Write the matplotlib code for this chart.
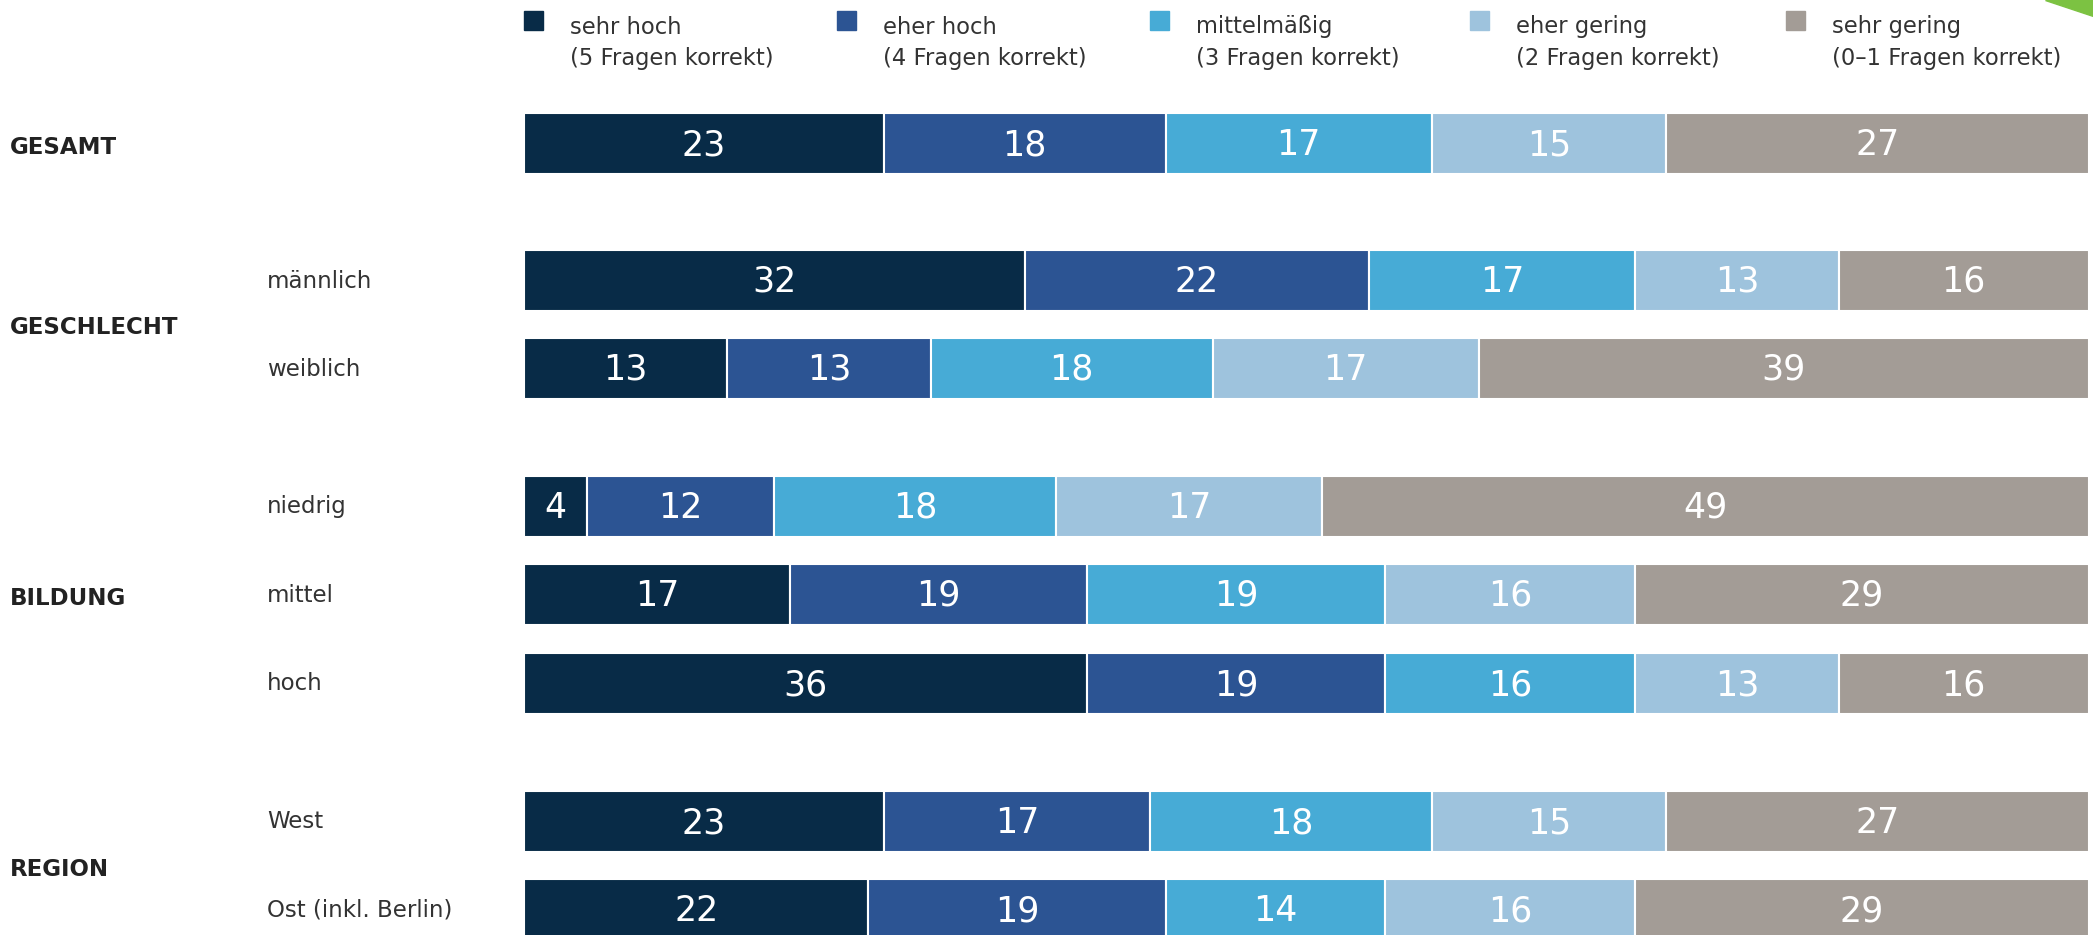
import matplotlib
matplotlib.use("Agg")
import matplotlib.pyplot as plt
from matplotlib.patches import Rectangle, Polygon
from matplotlib.transforms import blended_transform_factory

# Kategorien (Legende)
kategorien = ["sehr hoch", "eher hoch", "mittelmäßig", "eher gering", "sehr gering"]
kategorien_sub = ["(5 Fragen korrekt)", "(4 Fragen korrekt)", "(3 Fragen korrekt)",
                  "(2 Fragen korrekt)", "(0–1 Fragen korrekt)"]
farben = ["#082b47", "#2c5493", "#47abd6", "#9ec3dd", "#a39c96"]

# Zeilen
gruppen = ["GESAMT", "GESCHLECHT", "BILDUNG", "REGION"]
zeilen = ["", "männlich", "weiblich", "niedrig", "mittel", "hoch", "West", "Ost (inkl. Berlin)"]
zeilen_gruppe = [0, 1, 1, 2, 2, 2, 3, 3]

# Werte in Prozent (sehr hoch, eher hoch, mittelmäßig, eher gering, sehr gering)
werte_sehr_hoch = [23, 32, 13, 4, 17, 36, 23, 22]
werte_eher_hoch = [18, 22, 13, 12, 19, 19, 17, 19]
werte_mittel = [17, 17, 18, 18, 19, 16, 18, 14]
werte_eher_gering = [15, 13, 17, 17, 16, 13, 15, 16]
werte_sehr_gering = [27, 16, 39, 49, 29, 16, 27, 29]

W, H = 2093, 935
plt.rcParams['font.family'] = ['DejaVu Sans']

fig = plt.figure(figsize=(W / 100, H / 100), dpi=100)
fig.patch.set_facecolor("white")

x0, x1 = 524, 2089
ax = fig.add_axes([x0 / W, 0, (x1 - x0) / W, 1])
ax.set_xlim(0, 100)
ax.set_ylim(H, 0)
ax.axis("off")

# Zeilenpositionen (Pixel von oben)
y_pos = [143, 280, 368, 506, 594, 683, 821, 909]
bar_h = 61

serien = [werte_sehr_hoch, werte_eher_hoch, werte_mittel, werte_eher_gering, werte_sehr_gering]
links = [0.0] * len(zeilen)
for k, serie in enumerate(serien):
    ax.barh(y_pos, serie, left=links, height=bar_h, color=farben[k],
            edgecolor="white", linewidth=1.5)
    for i, v in enumerate(serie):
        ax.text(links[i] + v / 2, y_pos[i] + 2, str(v), color="white",
                fontsize=25, ha="center", va="center")
    links = [l + v for l, v in zip(links, serie)]

trans = blended_transform_factory(fig.transFigure, ax.transData)

# Zeilen-Beschriftungen
for i, lab in enumerate(zeilen):
    if lab:
        ax.text(267 / W, y_pos[i] + 1, lab, transform=trans, fontsize=16.5,
                color="#333333", ha="left", va="center")

# Gruppen-Beschriftungen
for g, name in enumerate(gruppen):
    ys = [y_pos[i] for i in range(len(zeilen)) if zeilen_gruppe[i] == g]
    yc = (min(ys) + max(ys)) / 2 + 4
    ax.text(10 / W, yc, name, transform=trans, fontsize=16.5, fontweight="bold",
            color="#222222", ha="left", va="center")

# Legende
leg_x = [524, 837, 1150, 1470, 1786]
for k in range(len(kategorien)):
    fig.patches.append(Rectangle((leg_x[k] / W, 1 - 30 / H), 19 / W, 19 / H,
                                 transform=fig.transFigure, color=farben[k]))
    fig.text((leg_x[k] + 46) / W, 1 - 27 / H, kategorien[k], fontsize=16.3,
             color="#333333", ha="left", va="center")
    fig.text((leg_x[k] + 46) / W, 1 - 58 / H, kategorien_sub[k], fontsize=16.3,
             color="#333333", ha="left", va="center")

# grüne Ecke oben rechts
fig.patches.append(Polygon([(2045 / W, 1), (1, 1), (1, 1 - 16 / H)], closed=True,
                           transform=fig.transFigure, color="#7cc242"))

fig.savefig("out.png", dpi=100)
